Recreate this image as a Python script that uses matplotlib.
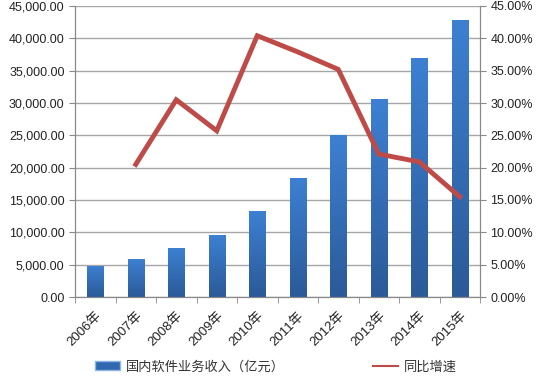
import matplotlib.pyplot as plt
import numpy as np
from matplotlib.ticker import FuncFormatter, MultipleLocator
from matplotlib.lines import Line2D
from matplotlib.patches import Patch
from matplotlib.colors import LinearSegmentedColormap

plt.rcParams['font.family'] = ['Liberation Sans', 'Noto Sans CJK SC', 'DejaVu Sans']

years = ['2006年', '2007年', '2008年', '2009年', '2010年',
         '2011年', '2012年', '2013年', '2014年', '2015年']
revenue = [4801, 5834, 7573, 9513, 13364, 18468, 25022, 30587, 37026, 42848]
growth_years = years[1:]
growth = [20.5, 30.5, 25.7, 40.4, 37.9, 35.2, 22.1, 20.9, 15.5]

bar_label = '国内软件业务收入（亿元）'
line_label = '同比增速'

fig = plt.figure(figsize=(5.41, 3.79), dpi=100)
ax = fig.add_axes([75 / 541, 1 - 297 / 379, 405 / 541, 291 / 379])
ax2 = ax.twinx()

x = np.arange(len(years))
bars = ax.bar(x, revenue, width=0.4, color='#3a78c4', edgecolor='#8fb5e6',
              linewidth=0.6, zorder=2)

# vertical gradient on each bar
grad = np.linspace(0, 1, 256).reshape(-1, 1)
cmap = LinearSegmentedColormap.from_list('b', ['#2b5a98', '#3d80d2'])
for b in bars:
    x0, y0 = b.get_x(), b.get_y()
    w, h = b.get_width(), b.get_height()
    im = ax.imshow(grad, extent=[x0, x0 + w, y0, y0 + h], origin='lower',
                   cmap=cmap, aspect='auto', zorder=2.5)
    im.set_clip_path(b)

ax.set_xlim(-0.5, len(years) - 0.5)
ax.set_ylim(0, 45000)
ax.yaxis.set_major_locator(MultipleLocator(5000))
ax.yaxis.set_major_formatter(FuncFormatter(lambda v, p: f'{v:,.2f}'))
ax.set_xticks(x)
ax.set_xticklabels(years, rotation=45, ha='right', rotation_mode='anchor')
ax.set_xticks(np.arange(-0.5, len(years), 1), minor=True)
ax.tick_params(axis='x', which='major', length=0, pad=9)
ax.tick_params(axis='x', which='minor', length=4, color='#888888')
ax.tick_params(axis='y', length=4, color='#888888')
ax.grid(axis='y', color='#a6a6a6', linewidth=1.0, zorder=0)
ax.set_axisbelow(True)

xg = [years.index(y) for y in growth_years]
ax2.plot(xg, growth, color='#be4b48', linewidth=3.5, zorder=5,
         solid_joinstyle='miter')
ax2.set_ylim(0, 45)
ax2.yaxis.set_major_locator(MultipleLocator(5))
ax2.yaxis.set_major_formatter(FuncFormatter(lambda v, p: f'{v:.2f}%'))
ax2.tick_params(axis='y', length=4, color='#888888')

for a in (ax, ax2):
    a.spines['top'].set_visible(False)
    for s in ('left', 'right', 'bottom'):
        a.spines[s].set_color('#888888')
    a.tick_params(labelsize=9, labelcolor='#222222')
ax.tick_params(axis='x', labelsize=9.5)

handles = [Patch(facecolor='#3068b0', edgecolor='#8fb5e6'),
           Line2D([], [], color='#be4b48', linewidth=1.5)]
fig.legend(handles, [bar_label, line_label], loc='center',
           bbox_to_anchor=(0.51, 1 - 367 / 379), ncol=2, frameon=False,
           fontsize=9.5, columnspacing=6.7, handlelength=1.9,
           handletextpad=0.4, labelcolor='#333333')

fig.savefig('out.png', dpi=100)
